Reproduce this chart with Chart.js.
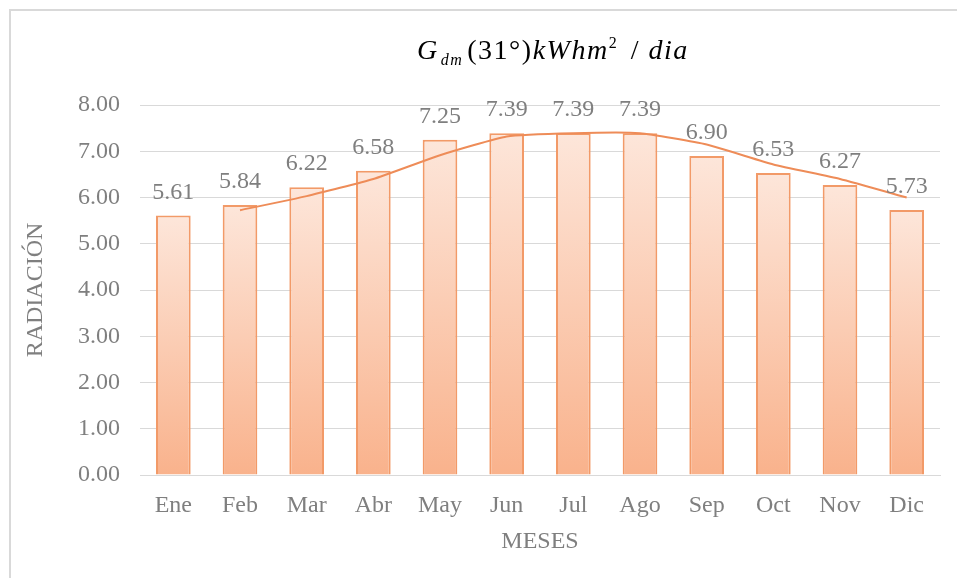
<!DOCTYPE html>
<html>
<head>
<meta charset="utf-8">
<script src="https://cdn.jsdelivr.net/npm/chart.js@4"></script>
<style>
  body { margin: 0; background: #fff; }
  #wrap { position: relative; width: 957px; height: 578px; }
  #frame { position: absolute; left: 9px; top: 9px; right: 0; bottom: 0;
           border-top: 2px solid #d9d9d9; border-left: 2px solid #d9d9d9; }
  #title { position: absolute; left: 417px; top: 36px; white-space: nowrap;
           font-family: 'Liberation Serif', 'Times New Roman', serif;
           font-size: 28px; line-height: 28px; letter-spacing: 1.5px; color: #000; }
  #title i { font-style: italic; }
  #title sub { font-size: 16px; vertical-align: -6px; line-height: 0; margin: 0 4px 0 2px; }
  #title sup { font-size: 16px; vertical-align: 11px; line-height: 0; margin-right: 4px; }
  canvas { position: absolute; left: 0; top: 0; }
</style>
</head>
<body>
<div id="wrap">
  <div id="frame"></div>
  <canvas id="barChart" width="957" height="578"></canvas>
  <div id="title"><i>G</i><sub><i>dm</i></sub>(31°)<i>kWhm</i><sup>2</sup> / <i>dia</i></div>
</div>
<script>
const meses = ['Ene', 'Feb', 'Mar', 'Abr', 'May', 'Jun', 'Jul', 'Ago', 'Sep', 'Oct', 'Nov', 'Dic']
const radiacion = [5.61, 5.84, 6.22, 6.58, 7.25, 7.39, 7.39, 7.39, 6.90, 6.53, 6.27, 5.73]
// media movil de 2 periodos (linea de tendencia)
const tendencia = [null, 5.725, 6.03, 6.40, 6.915, 7.32, 7.39, 7.39, 7.145, 6.715, 6.40, 6.00]
const yTicks = [0, 1, 2, 3, 4, 5, 6, 7, 8]

const gris = '#7f7f7f'
const letra = "'Liberation Serif', 'Times New Roman', serif"

const etiquetas = {
    id: 'etiquetas',
    afterDatasetsDraw(chart) {
        const ctx = chart.ctx
        const meta = chart.getDatasetMeta(0)
        ctx.save()
        ctx.font = '24px ' + letra
        ctx.fillStyle = gris
        ctx.textAlign = 'center'
        ctx.textBaseline = 'alphabetic'
        meta.data.forEach((bar, i) => {
            ctx.fillText(radiacion[i].toFixed(2), bar.x, bar.y - 17)
        })
        ctx.restore()
    }
}

const bar = document.querySelector('#barChart')
new Chart(bar, {
    type: 'bar',
    data: {
        labels: meses,
        datasets: [
        {
            label: 'Radiación',
            data: radiacion,
            order: 1,
            borderColor: '#f29a68',
            borderWidth: 2,
            barPercentage: 0.52,
            categoryPercentage: 1,
            backgroundColor: (c) => {
                const area = c.chart.chartArea
                if (!area || c.type !== 'data') return '#fcd0b8'
                const y = c.chart.scales.y.getPixelForValue(radiacion[c.dataIndex])
                const g = c.chart.ctx.createLinearGradient(0, y, 0, area.bottom)
                g.addColorStop(0, '#fde6da')
                g.addColorStop(1, '#f9b28c')
                return g
            }
        },
        {
            type: 'line',
            label: 'Media móvil',
            data: tendencia,
            order: 0,
            borderColor: '#ee8c58',
            borderWidth: 2,
            pointRadius: 0,
            tension: 0.15,
            fill: false
        }
        ]
    },
    options: {
        responsive: false,
        animation: false,
        layout: { padding: { top: 105, right: 17, left: 0, bottom: 0 } },
        plugins: {
            legend: { display: false },
            tooltip: { enabled: false }
        },
        scales: {
            x: {
                grid: { display: false, drawTicks: false },
                border: { color: '#d9d9d9', width: 1 },
                ticks: { color: gris, padding: 16, font: { family: letra, size: 24 } },
                title: { display: true, text: 'MESES', color: gris,
                         font: { family: letra, size: 24 }, padding: { bottom: 22 } },
                afterFit: (s) => { s.height = 103 }
            },
            y: {
                min: 0,
                max: 8,
                afterBuildTicks: (s) => { s.ticks = yTicks.map(v => ({ value: v })) },
                grid: { color: '#d9d9d9', drawTicks: false },
                border: { display: false },
                ticks: { color: gris, padding: 20, font: { family: letra, size: 24 },
                         callback: (v) => Number(v).toFixed(2) },
                title: { display: true, text: 'RADIACIÓN', color: gris,
                         font: { family: letra, size: 24 }, padding: { top: 21 } },
                afterFit: (s) => { s.width = 140 }
            }
        }
    },
    plugins: [etiquetas]
})
</script>
</body>
</html>
